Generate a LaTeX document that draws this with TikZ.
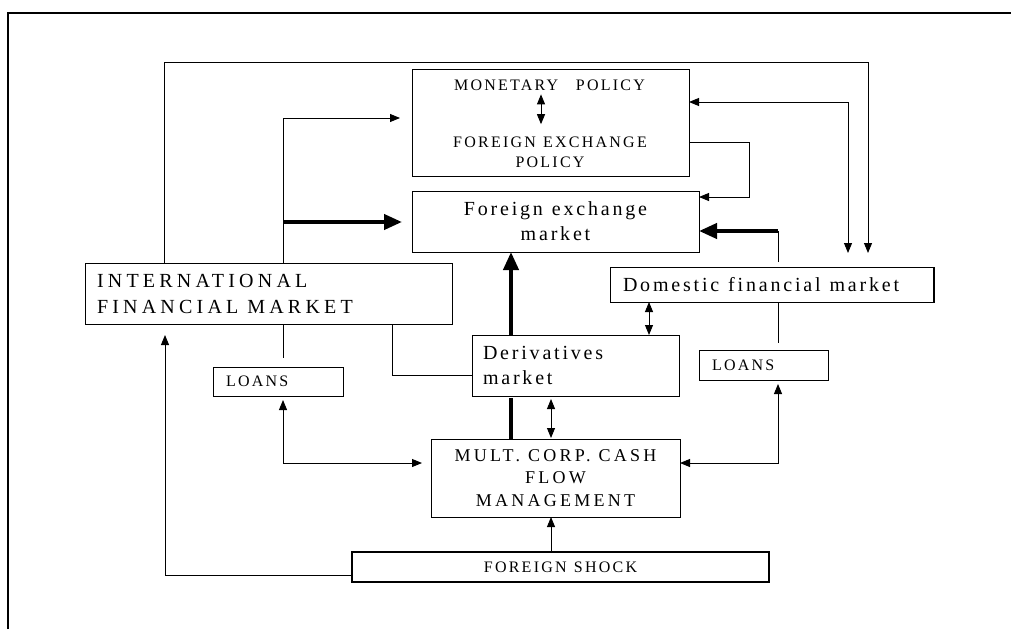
\documentclass[tikz,border=0pt]{standalone}
\usepackage{fontspec}
\setmainfont{Liberation Serif}
\newfontfamily\fbig[LetterSpace=14]{Liberation Serif}
\newfontfamily\fcap[LetterSpace=14]{Liberation Serif}
\newfontfamily\fifm[LetterSpace=21]{Liberation Serif}
\newfontfamily\fmult[LetterSpace=18]{Liberation Serif}
\newcommand\ws{\hspace{0.45em}}
\usetikzlibrary{arrows.meta}
\tikzset{
  bx/.style={draw, line width=0.9pt, anchor=north west, inner sep=0pt, outer sep=0pt},
  ln/.style={line width=0.9pt},
  arr/.style={ln, -{Triangle[length=10pt,width=8pt]}},
  darr/.style={ln, {Triangle[length=10pt,width=8pt]}-{Triangle[length=10pt,width=8pt]}},
  thk/.style={line width=4pt},
  tarr/.style={thk, -{Triangle[length=18pt,width=15pt]}},
  bigtxt/.style={font={\fbig\fontsize{20}{25}\selectfont}},
  captxt/.style={font={\fcap\fontsize{16}{20}\selectfont}},
}
\begin{document}
\begin{tikzpicture}[x=1pt,y=-1pt]
\useasboundingbox (0,0) rectangle (1011,629);
% outer frame
\draw[line width=2pt] (8,629) -- (8,13) -- (1011,13);

% guide coordinates
\foreach \v in {164,165,283,392,511,541,551,649,749,778,848,868}{\coordinate (X\v) at (\v,0);}
\foreach \v in {62,102,118,142,197,222,231,375,463,575}{\coordinate (Y\v) at (0,\v);}

% boxes
\node[bx, minimum width=277, minimum height=107] (mon) at (412,69) {};
\node[captxt, anchor=base, inner sep=0pt] (mpol) at (549.5,90) {MONETARY\hspace{1.1em}POLICY};
\node[captxt, anchor=base, inner sep=0pt] (fxpol1) at (550,147) {FOREIGN\ws EXCHANGE};
\node[captxt, anchor=base, inner sep=0pt] (fxpol2) at (550,167) {POLICY};

\node[bx, bigtxt, minimum width=287, minimum height=61, align=center] (fx) at (412,191) {Foreign\ws exchange\\market};

\node[bx, minimum width=367, minimum height=61, text width=343, inner xsep=12pt, align=left,
      font={\fifm\fontsize{20}{26}\selectfont}] (ifm) at (85,263) {INTERNATIONAL\\FINANCIAL\ws MARKET};

\node[bx, bigtxt, minimum width=324, minimum height=35, text width=298, inner xsep=13pt, align=left] (dom) at (610,267) {Domestic\ws financial\ws market};
\draw[line width=1.8pt] (dom.north east) -- (dom.south east);

\node[bx, bigtxt, minimum width=207, minimum height=61, text width=185, inner xsep=11pt, align=left] (der) at (472,335) {Derivatives\\market};

\node[bx, captxt, minimum width=130, minimum height=29, text width=104, inner xsep=13pt, align=left] (loanL) at (213,367) {LOANS};
\node[bx, captxt, minimum width=129, minimum height=30, text width=103, inner xsep=13pt, align=left] (loanR) at (699,350) {LOANS};

\node[bx, minimum width=249, minimum height=78, align=center,
      font={\fmult\fontsize{18}{22.5}\selectfont}] (mult) at (431,439) {MULT.\ws CORP.\ws CASH\\FLOW\\MANAGEMENT};

\node[bx, captxt, line width=1.5pt, minimum width=417, minimum height=30, align=center] (fs) at (352,552) {FOREIGN\ws SHOCK};

% connectors
\draw[darr, shorten <=4pt, shorten >=12pt] (mpol.south -| X541) -- (fxpol1.north -| X541);

\draw[arr, shorten >=14pt] (ifm.north -| X164) |- (X868 |- Y62) -- (dom.north -| X868);
\draw[darr, shorten >=14pt] (mon.east |- Y102) -| (dom.north -| X848);
\draw[arr] (mon.east |- Y142) -| (X749 |- Y197) -- (fx.east |- Y197);

\draw[arr, shorten >=12pt] (ifm.north -| X283) |- (mon.west |- Y118);
\draw[tarr, shorten >=10pt] (X283 |- Y222) -- (fx.west |- Y222);

\draw[ln, shorten <=5pt] (dom.north -| X778) -- (X778 |- Y231);
\draw[tarr] (X778 |- Y231) -- (fx.east |- Y231);

\draw[tarr] (der.north -| X511) -- (fx.south -| X511);
\draw[darr] (dom.south -| X649) -- (der.north -| X649);

\draw[ln] (ifm.south -| X392) |- (der.west |- Y375);
\draw[ln, shorten >=9pt] (ifm.south -| X283) -- (loanL.north -| X283);
\draw[darr, shorten <=4pt, shorten >=9pt] (loanL.south -| X283) |- (mult.west |- Y463);
\draw[darr, shorten <=4pt] (loanR.south -| X778) |- (mult.east |- Y463);
\draw[ln, shorten >=7pt] (dom.south -| X778) -- (loanR.north -| X778);

\draw[thk, shorten >=2pt] (mult.north -| X511) -- (der.south -| X511);
\draw[darr, shorten <=3pt, shorten >=1pt] (der.south -| X551) -- (mult.north -| X551);
\draw[arr] (fs.north -| X551) -- (mult.south -| X551);
\draw[arr, shorten >=11pt] (fs.west |- Y575) -| (ifm.south -| X165);
\end{tikzpicture}
\end{document}
